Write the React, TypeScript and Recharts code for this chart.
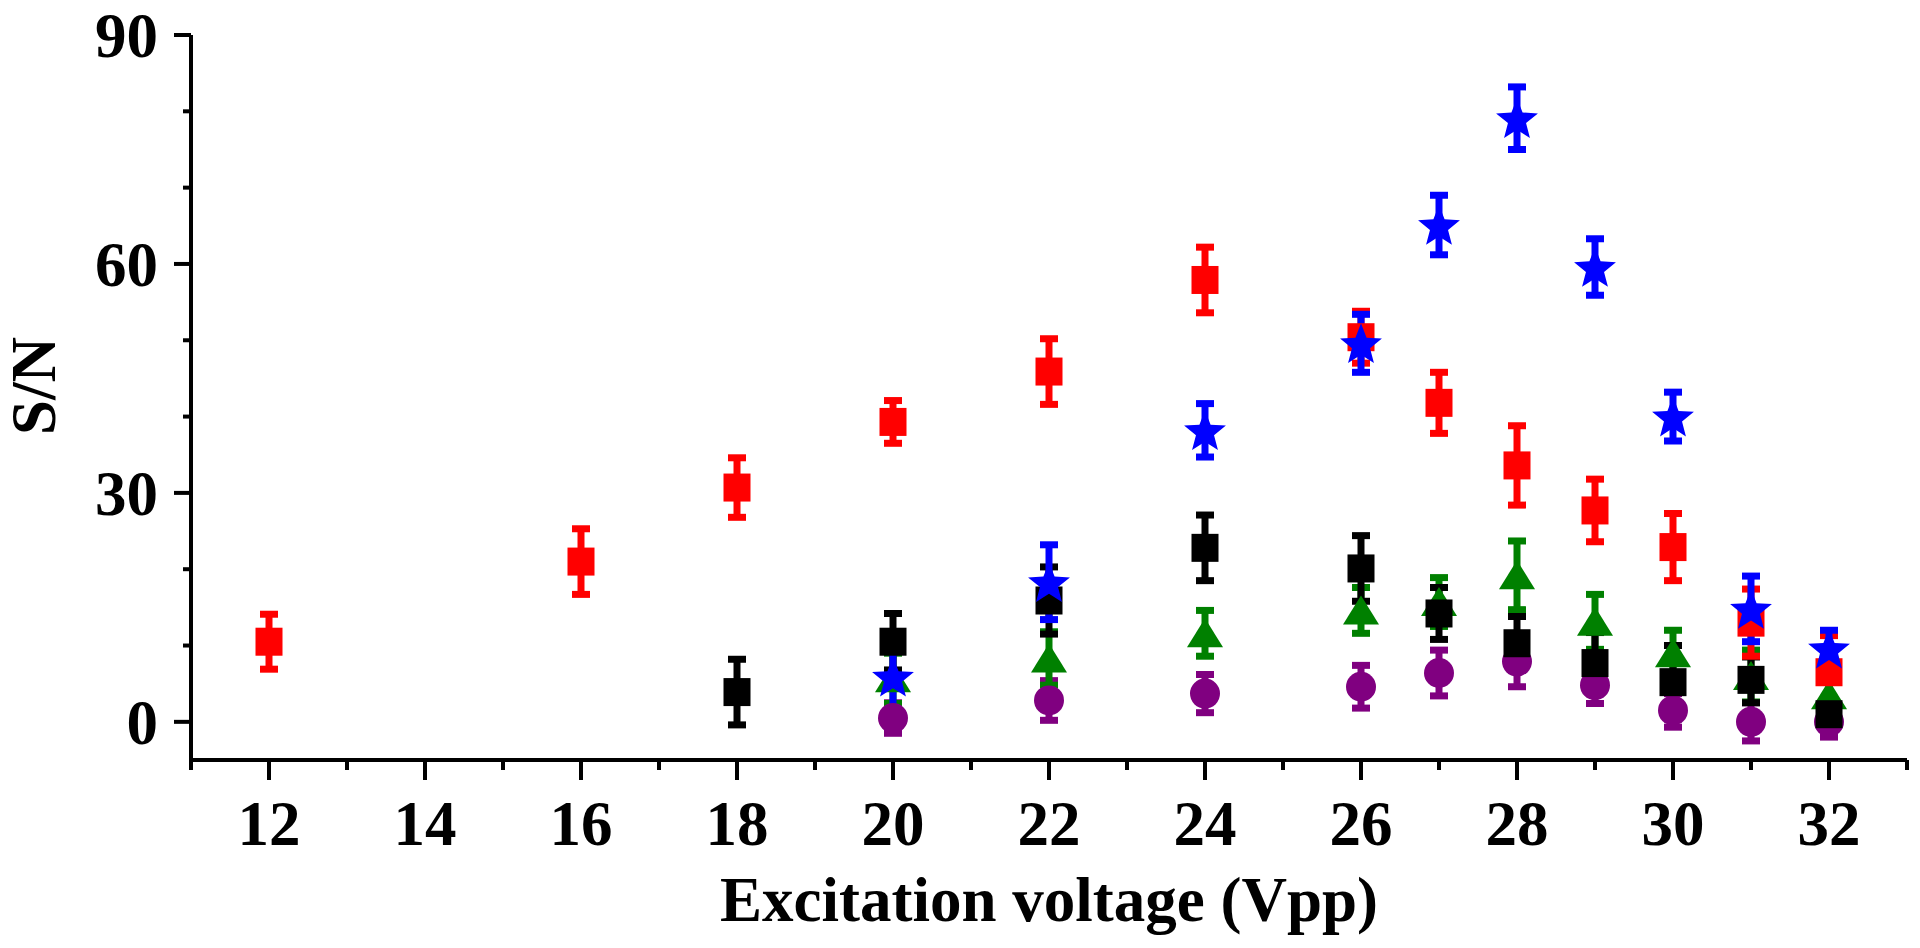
import React from 'react';
import { ScatterChart, Scatter, XAxis, YAxis, ErrorBar, Label } from 'recharts';

document.body.style.margin = '0';

const FONT = "'Liberation Serif', 'Times New Roman', serif";

// voltage (Vpp), S/N, error
const xRed = [12, 16, 18, 20, 22, 24, 26, 27, 28, 29, 30, 31, 32];
const yRed = [10.5, 21.0, 30.7, 39.3, 45.9, 57.9, 50.4, 41.8, 33.6, 27.7, 22.9, 13.0, 6.5];
const eRed = [3.6, 4.3, 3.9, 2.8, 4.3, 4.3, 3.4, 4.0, 5.2, 4.1, 4.4, 4.4, 4.8];

const xBlue = [20, 22, 24, 26, 27, 28, 29, 30, 31, 32];
const yBlue = [5.9, 18.3, 38.2, 49.6, 65.1, 79.1, 59.6, 40.0, 14.8, 9.6];
const eBlue = [4.5, 4.9, 3.5, 3.8, 3.9, 4.1, 3.7, 3.2, 4.3, 2.4];

const xBlack = [18, 20, 22, 24, 26, 27, 28, 29, 30, 31, 32];
const yBlack = [3.9, 10.5, 15.9, 22.8, 20.1, 14.2, 10.3, 7.7, 5.2, 5.5, 1.0];
const eBlack = [4.3, 3.7, 4.4, 4.3, 4.3, 3.4, 3.5, 4.0, 4.8, 3.0, 2.0];

const xGreen = [20, 22, 24, 26, 27, 28, 29, 30, 31, 32];
const yGreen = [5.7, 8.3, 11.6, 14.6, 15.7, 19.2, 13.1, 9.0, 6.0, 3.5];
const eGreen = [3.3, 3.5, 3.0, 3.0, 3.2, 4.5, 3.6, 3.0, 3.4, 3.0];

const xPurple = [20, 22, 24, 26, 27, 28, 29, 30, 31, 32];
const yPurple = [0.5, 2.8, 3.7, 4.6, 6.4, 7.9, 4.8, 1.5, 0, 0];
const ePurple = [2.0, 2.6, 2.5, 2.8, 3.0, 3.3, 2.4, 2.2, 2.5, 2.0];

const xTicks = [11, 12, 13, 14, 15, 16, 17, 18, 19, 20, 21, 22, 23, 24, 25, 26, 27, 28, 29, 30, 31, 32, 33];
const yTicks = [0, 10, 20, 30, 40, 50, 60, 70, 80, 90];

const rows = (xs: number[], ys: number[], es: number[]) => xs.map((x, i) => ({ x, y: ys[i], err: es[i] }));

const square = (color: string) => (p: any) => (
  <rect x={p.cx - 13.5} y={p.cy - 14} width={27} height={28} fill={color} />
);
const circle = (color: string) => (p: any) => <circle cx={p.cx} cy={p.cy} r={15} fill={color} />;
const triangle = (color: string) => (p: any) => (
  <polygon points={`${p.cx},${p.cy - 15} ${p.cx - 18},${p.cy + 14} ${p.cx + 18},${p.cy + 14}`} fill={color} />
);
const star = (color: string) => (p: any) => {
  const pts: string[] = [];
  for (let i = 0; i < 10; i++) {
    const r = i % 2 === 0 ? 22 : 9.5;
    const a = -Math.PI / 2 + (i * Math.PI) / 5;
    pts.push(`${p.cx + r * Math.cos(a)},${p.cy + 2 + r * Math.sin(a)}`);
  }
  return <polygon points={pts.join(' ')} fill={color} />;
};
const none = () => <g />;

const XTick = (p: any) => {
  const major = p.payload.value % 2 === 0;
  return (
    <g>
      <line x1={p.x} x2={p.x} y1={p.y} y2={p.y + (major ? 20 : 10)} stroke="#000" strokeWidth={4} />
      {major && (
        <text x={p.x} y={p.y + 85} textAnchor="middle" fontFamily={FONT} fontWeight="bold" fontSize={63} fill="#000">
          {p.payload.value}
        </text>
      )}
    </g>
  );
};

const YTick = (p: any) => {
  const major = p.payload.value % 30 === 0;
  return (
    <g>
      <line x1={p.x - (major ? 17 : 8)} x2={p.x} y1={p.y} y2={p.y} stroke="#000" strokeWidth={4} />
      {major && (
        <text x={p.x - 33} y={p.y + 22} textAnchor="end" fontFamily={FONT} fontWeight="bold" fontSize={63} fill="#000">
          {p.payload.value}
        </text>
      )}
    </g>
  );
};

const series = [
  { name: 'purple', color: '#800080', data: rows(xPurple, yPurple, ePurple), shape: circle },
  { name: 'green', color: '#008000', data: rows(xGreen, yGreen, eGreen), shape: triangle },
  { name: 'black', color: '#000000', data: rows(xBlack, yBlack, eBlack), shape: square },
  { name: 'red', color: '#FF0000', data: rows(xRed, yRed, eRed), shape: square },
  { name: 'blue', color: '#0000FF', data: rows(xBlue, yBlue, eBlue), shape: star },
];

export default function App() {
  return (
    <ScatterChart width={1920} height={948} margin={{ top: 35, right: 13, bottom: 0, left: 0 }}>
      <XAxis
        type="number"
        dataKey="x"
        domain={[11, 33]}
        ticks={xTicks}
        interval={0}
        tickSize={0}
        tickMargin={0}
        tickLine={false}
        tick={<XTick />}
        axisLine={{ stroke: '#000', strokeWidth: 4 }}
        height={188}
      >
        <Label
          content={(p: any) => (
            <text
              x={p.viewBox.x + p.viewBox.width / 2}
              y={p.viewBox.y + 161}
              textAnchor="middle"
              fontFamily={FONT}
              fontWeight="bold"
              fontSize={63}
              fill="#000"
            >
              Excitation voltage (Vpp)
            </text>
          )}
        />
      </XAxis>
      <YAxis
        type="number"
        dataKey="y"
        domain={[-5, 90]}
        ticks={yTicks}
        interval={0}
        tickSize={0}
        tickMargin={0}
        tickLine={false}
        tick={<YTick />}
        axisLine={{ stroke: '#000', strokeWidth: 4 }}
        width={191}
      >
        <Label
          content={() => (
            <text
              x={55}
              y={386}
              transform="rotate(-90, 55, 386)"
              textAnchor="middle"
              fontFamily={FONT}
              fontWeight="bold"
              fontSize={63}
              fill="#000"
            >
              S/N
            </text>
          )}
        />
      </YAxis>
      {series.map(s => (
        <Scatter key={s.name} name={s.name} data={s.data} fill={s.color} shape={s.shape(s.color)} isAnimationActive={false} />
      ))}
      {series.map(s => (
        <Scatter key={s.name + '-err'} name={s.name + ' err'} data={s.data} fill={s.color} shape={none} isAnimationActive={false}>
          <ErrorBar dataKey="err" direction="y" width={9} strokeWidth={7} stroke={s.color} isAnimationActive={false} />
        </Scatter>
      ))}
    </ScatterChart>
  );
}
